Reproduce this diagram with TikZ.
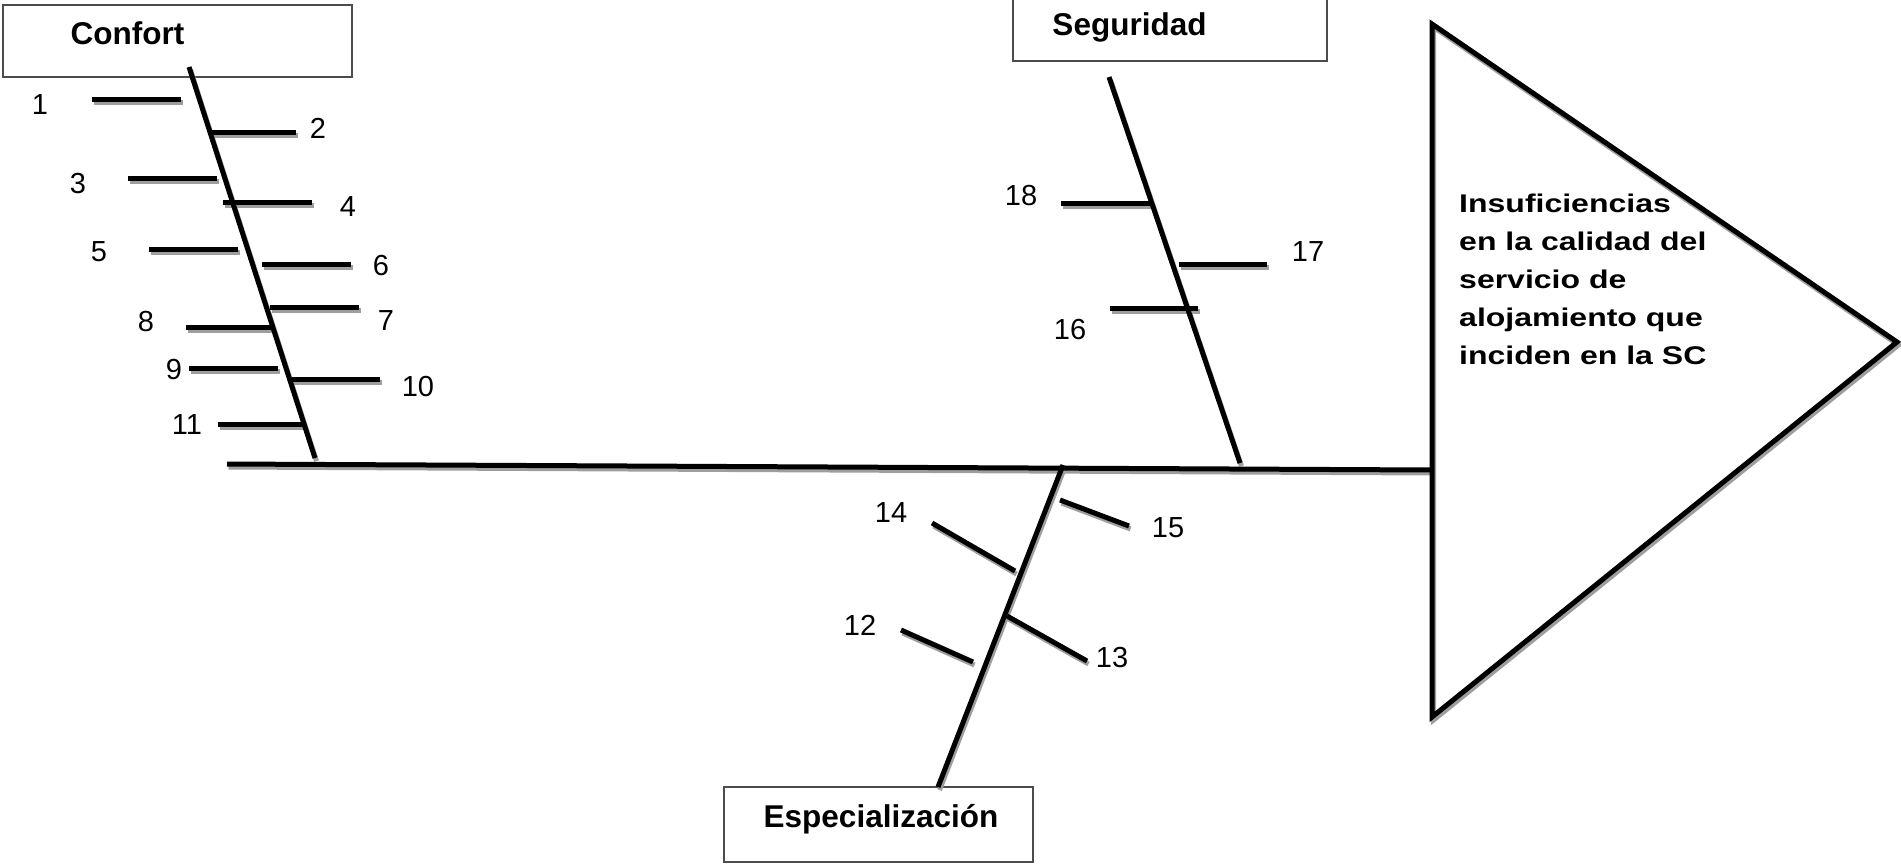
\documentclass[tikz,border=0pt]{standalone}
\usepackage{fontspec}
\setmainfont{Liberation Sans}
\newfontfamily\trifont[FakeStretch=1.25]{Liberation Sans}
\tikzset{
  bone/.style={line width=5pt, black, line cap=butt},
  boneshadow/.style={line width=5pt, black!38, line cap=butt},
  catbox/.style={draw=black!70, line width=1.5pt, fill=white, inner sep=0pt},
  cattext/.style={font=\fontsize{31.5}{36}\selectfont\bfseries, inner sep=0pt, anchor=base},
  num/.style={font=\fontsize{29}{34}\selectfont, inner sep=0pt},
}
\newcommand{\bonelist}{m0/m1, cs0/cs1, ss0/ss1, es0/es1,
  r1a/r1b, r2a/r2b, r3a/r3b, r4a/r4b, r5a/r5b, r6a/r6b, r7a/r7b, r8a/r8b,
  r9a/r9b, r10a/r10b, r11a/r11b, r16a/r16b, r17a/r17b, r18a/r18b,
  r12a/r12b, r13a/r13b, r14a/r14b, r15a/r15b}
\begin{document}
\begin{tikzpicture}[x=1pt, y=-1pt]
\useasboundingbox (0,0) rectangle (1901,863);
% category boxes
\node[catbox, minimum width=349pt, minimum height=72pt] (confortbox) at (177.5,41) {};
\node[catbox, minimum width=314pt, minimum height=64pt] (segbox) at (1170,29) {};
\node[catbox, minimum width=309pt, minimum height=75pt] (espbox) at (878.5,824.5) {};
\node[cattext] (confort) at (127.5,44) {Confort};
\node[cattext] (seg) at (1129.5,35) {Seguridad};
\node[cattext] (esp) at (881,827) {Especialización};
% coordinates
\coordinate (m0) at (227,464); \coordinate (m1) at (1432,470);
\coordinate (cs0) at (189,67); \coordinate (cs1) at (315,458);
\coordinate (ss0) at (1109,77); \coordinate (ss1) at (1240,463);
\coordinate (es0) at (1063,465); \coordinate (es1) at (938,787);
\coordinate (r1a) at (92,99); \coordinate (r1b) at (181,99);
\coordinate (r2a) at (210,132); \coordinate (r2b) at (296,132);
\coordinate (r3a) at (128,178); \coordinate (r3b) at (217,178);
\coordinate (r4a) at (223,202); \coordinate (r4b) at (312,202);
\coordinate (r5a) at (149,249); \coordinate (r5b) at (238,249);
\coordinate (r6a) at (262,264); \coordinate (r6b) at (351,264);
\coordinate (r7a) at (270,307); \coordinate (r7b) at (359,307);
\coordinate (r8a) at (186,327); \coordinate (r8b) at (272,327);
\coordinate (r9a) at (189,368); \coordinate (r9b) at (278,368);
\coordinate (r10a) at (292,379); \coordinate (r10b) at (380,379);
\coordinate (r11a) at (218,424); \coordinate (r11b) at (303,424);
\coordinate (r18a) at (1061,203); \coordinate (r18b) at (1152,203);
\coordinate (r17a) at (1179,264); \coordinate (r17b) at (1267,264);
\coordinate (r16a) at (1110,308); \coordinate (r16b) at (1198,308);
\coordinate (r15a) at (1060,500); \coordinate (r15b) at (1129,526);
\coordinate (r14a) at (932,523); \coordinate (r14b) at (1015,571);
\coordinate (r13a) at (1007,616); \coordinate (r13b) at (1087,661);
\coordinate (r12a) at (901,630); \coordinate (r12b) at (973,662);
\coordinate (t1) at (1432,24); \coordinate (t2) at (1897,342); \coordinate (t3) at (1432,717);
% shadows
\foreach \a/\b in \bonelist
  \draw[boneshadow] ([shift={(1.5,3)}]\a) -- ([shift={(1.5,3)}]\b);
\draw[boneshadow, line join=miter] ([shift={(1.5,3)}]t1) -- ([shift={(1.5,3)}]t2) -- ([shift={(1.5,3)}]t3) -- cycle;
% bones
\foreach \a/\b in \bonelist
  \draw[bone] (\a) -- (\b);
\draw[bone, line join=miter] (t1) -- (t2) -- (t3) -- cycle;
% effect text
\node[anchor=north west, inner sep=0pt, align=left,
      font=\trifont\bfseries\fontsize{25.6}{38}\selectfont] (effect) at (1459,194)
  {Insuficiencias\\en la calidad del\\servicio de\\alojamiento que\\inciden en la SC};
% number labels
\node[num] (l1) at (40,105) {1};
\node[num] (l2) at (318,128) {2};
\node[num] (l3) at (78,184) {3};
\node[num] (l4) at (348,207) {4};
\node[num] (l5) at (99,252) {5};
\node[num] (l6) at (381,266) {6};
\node[num] (l7) at (386,321) {7};
\node[num] (l8) at (146,322) {8};
\node[num] (l9) at (174,370) {9};
\node[num] (l10) at (418,387) {10};
\node[num] (l11) at (187,425) {11};
\node[num] (l12) at (860,625) {12};
\node[num] (l13) at (1112,658) {13};
\node[num] (l14) at (891,513) {14};
\node[num] (l15) at (1168,528) {15};
\node[num] (l16) at (1070,330) {16};
\node[num] (l17) at (1308,252) {17};
\node[num] (l18) at (1021,196) {18};
\end{tikzpicture}
\end{document}
